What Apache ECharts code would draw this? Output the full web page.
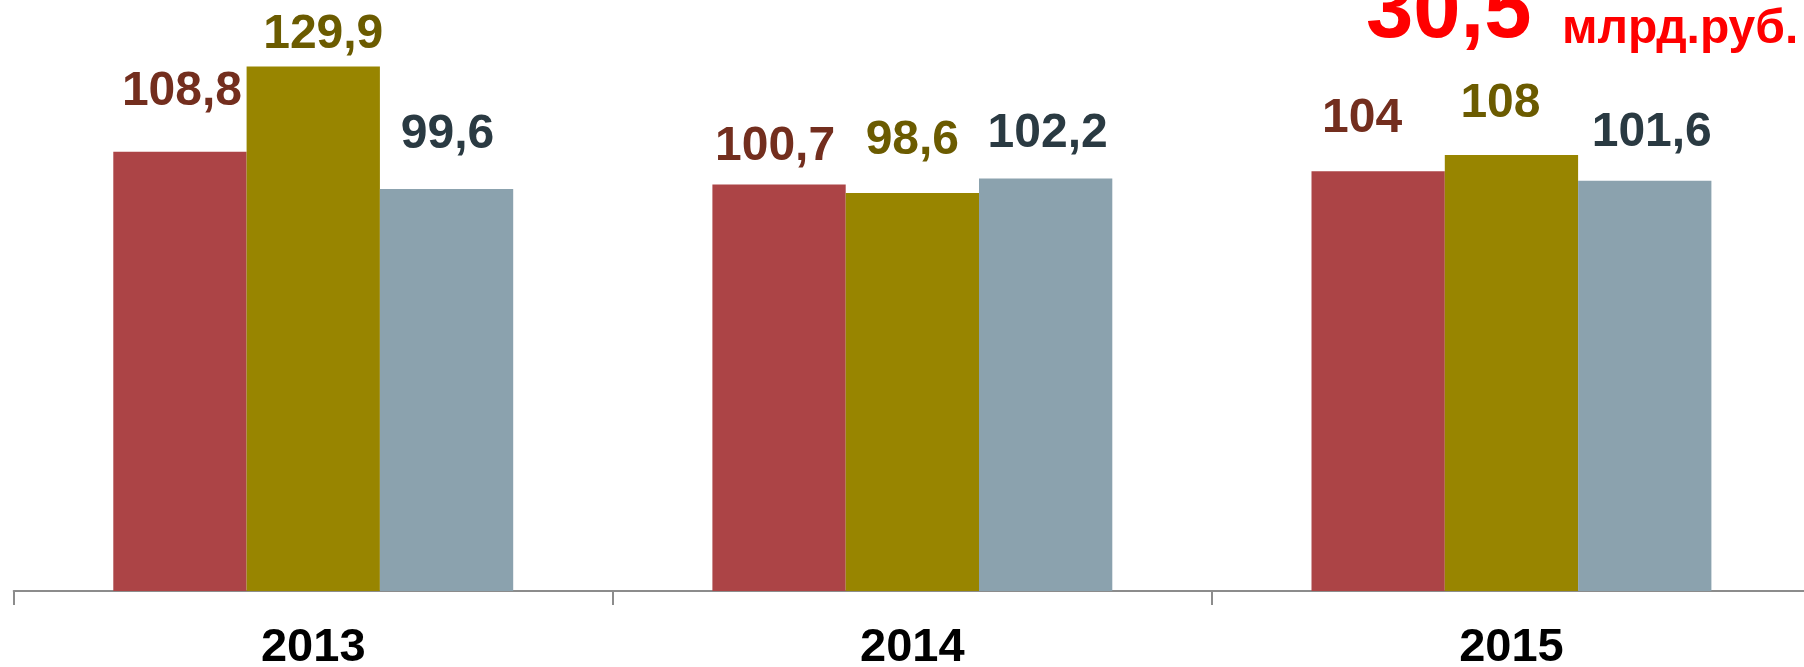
<!DOCTYPE html>
<html>
<head>
<meta charset="utf-8">
<script src="https://cdn.jsdelivr.net/npm/echarts@6/dist/echarts.min.js"></script>
<style>
html,body{margin:0;padding:0;background:#fff;}
#chart{width:1804px;height:667px;}
</style>
</head>
<body>
<div id="chart"></div>
<script>
const categories = ['2013', '2014', '2015'];
const seriesA = [108.8, 100.7, 104];
const seriesB = [129.9, 98.6, 108];
const seriesC = [99.6, 102.2, 101.6];
const totalValue = '30,5';
const totalUnit = 'млрд.руб.';

// label nudges (position only, in px)
const nudgeA = [[2, -36], [-4, -14], [-16, -28]];
const nudgeB = [[10, -8], [0, -28], [-11, -27]];
const nudgeC = [[1, -30], [2, -21], [7, -24.5]];

const FONT = '"Liberation Sans", Arial, sans-serif';

function makeSeries(name, values, nudges, barColor, labelColor) {
  return {
    name: name,
    type: 'bar',
    barWidth: 133.3,
    barGap: '0%',
    data: values.map((v, i) => ({
      value: v,
      label: { offset: nudges[i] }
    })),
    itemStyle: { color: barColor },
    label: {
      show: true,
      position: 'top',
      distance: 0,
      color: labelColor,
      fontSize: 48,
      fontWeight: 'bold',
      fontFamily: FONT,
      formatter: p => String(p.value).replace('.', ',')
    },
    emphasis: { disabled: true }
  };
}

const chart = echarts.init(document.getElementById('chart'));
chart.setOption({
  animation: false,
  grid: { left: 13.7, right: -7, top: 25.8, bottom: 76, containLabel: false, outerBoundsMode: 'none' },
  xAxis: {
    type: 'category',
    data: categories,
    boundaryGap: true,
    axisLine: { show: true, lineStyle: { color: '#8c8c8c', width: 2 } },
    axisTick: { show: true, length: 14, lineStyle: { color: '#8c8c8c', width: 2 } },
    axisLabel: {
      color: '#000',
      fontSize: 47,
      fontWeight: 'bold',
      fontFamily: FONT,
      margin: 34
    }
  },
  yAxis: {
    type: 'value',
    min: 0,
    max: 140,
    show: false,
    splitLine: { show: false }
  },
  series: [
    makeSeries('A', seriesA, nudgeA, '#AC4446', '#732E1E'),
    makeSeries('B', seriesB, nudgeB, '#988500', '#6B5B00'),
    makeSeries('C', seriesC, nudgeC, '#8BA2AE', '#2A3A42')
  ],
  graphic: [
    {
      type: 'text',
      left: 1366,
      top: -29,
      style: {
        text: totalValue,
        fill: '#FF0000',
        font: 'bold 85px ' + FONT
      }
    },
    {
      type: 'text',
      left: 1562,
      top: 6,
      style: {
        text: totalUnit,
        fill: '#FF0000',
        font: 'bold 48px ' + FONT
      }
    }
  ]
});
</script>
</body>
</html>
